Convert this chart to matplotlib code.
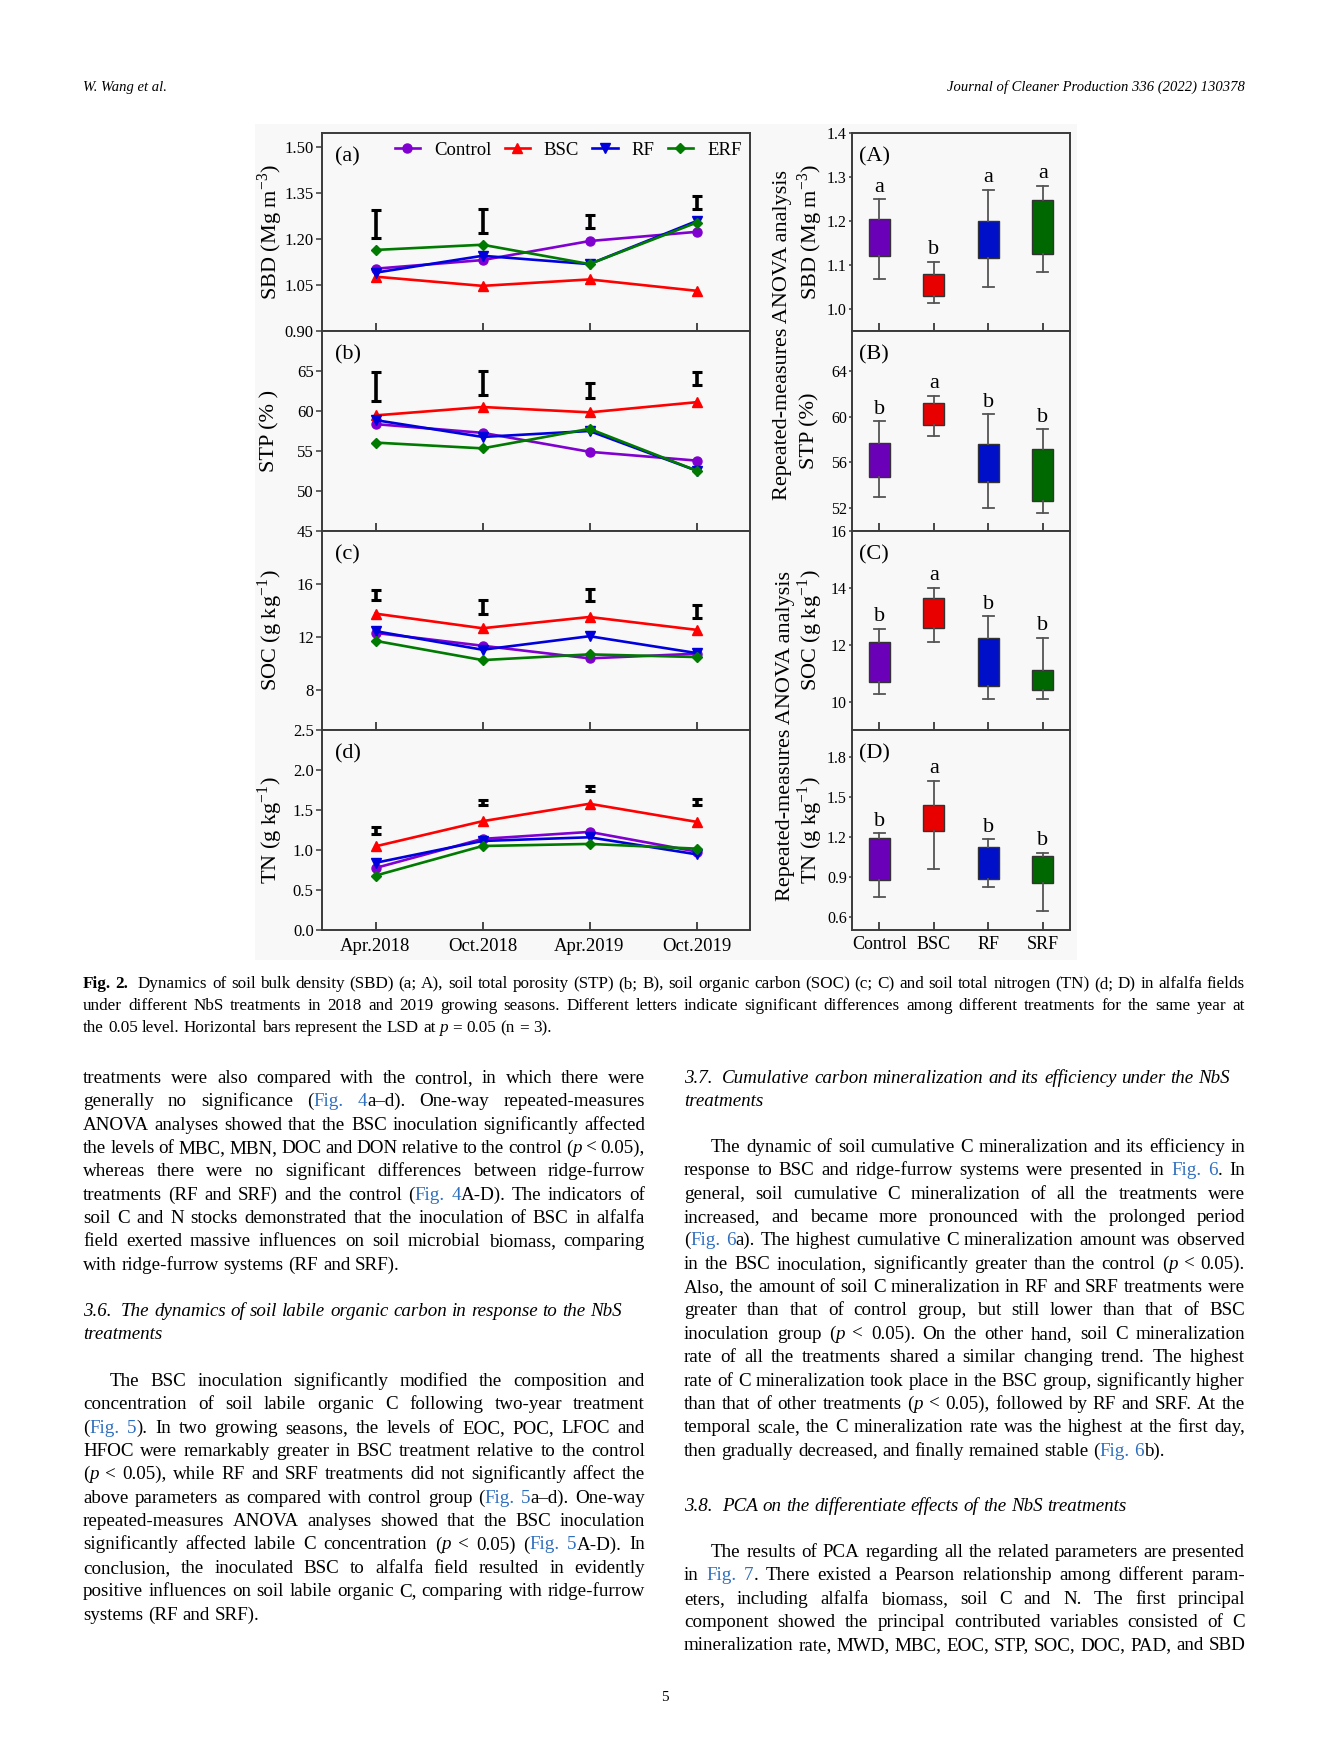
import re
import matplotlib
matplotlib.use('Agg')
import matplotlib.pyplot as plt
from matplotlib.patches import Rectangle

W, H, DPI = 1323, 1764, 100

# ---------------- chart data ----------------
dates = ['Apr.2018', 'Oct.2018', 'Apr.2019', 'Oct.2019']
treatments = ['Control', 'BSC', 'RF', 'ERF']

sbd = [[1.103, 1.131, 1.193, 1.223],
       [1.077, 1.047, 1.068, 1.031],
       [1.090, 1.145, 1.118, 1.258],
       [1.164, 1.181, 1.118, 1.253]]
sbd_lsd_lo = [1.202, 1.219, 1.237, 1.297]
sbd_lsd_hi = [1.294, 1.298, 1.279, 1.341]

stp = [[58.36, 57.27, 54.90, 53.80],
       [59.45, 60.50, 59.83, 61.10],
       [58.86, 56.76, 57.50, 52.55],
       [56.05, 55.33, 57.77, 52.55]]
stp_lsd_lo = [61.3, 62.0, 61.6, 63.2]
stp_lsd_hi = [64.9, 65.0, 63.5, 64.9]

soc = [[12.32, 11.35, 10.40, 10.75],
       [13.77, 12.67, 13.52, 12.55],
       [12.45, 11.05, 12.07, 10.80],
       [11.72, 10.27, 10.70, 10.50]]
soc_lsd_lo = [14.80, 13.75, 14.72, 13.42]
soc_lsd_hi = [15.55, 14.80, 15.60, 14.45]

tn = [[0.775, 1.139, 1.226, 0.980],
      [1.046, 1.360, 1.578, 1.352],
      [0.840, 1.113, 1.159, 0.946],
      [0.680, 1.050, 1.076, 1.017]]
tn_lsd_lo = [1.200, 1.565, 1.736, 1.565]
tn_lsd_hi = [1.290, 1.624, 1.800, 1.640]

box_groups = ['Control', 'BSC', 'RF', 'SRF']
sbd_q1 = [1.120, 1.030, 1.115, 1.125]
sbd_q3 = [1.204, 1.079, 1.200, 1.247]
sbd_lo = [1.068, 1.014, 1.050, 1.084]
sbd_hi = [1.249, 1.107, 1.270, 1.280]
sbd_letters = ['a', 'b', 'a', 'a']

stp_q1 = [54.7, 59.3, 54.3, 52.6]
stp_q3 = [57.7, 61.2, 57.6, 57.2]
stp_lo = [53.0, 58.3, 52.0, 51.6]
stp_hi = [59.6, 61.8, 60.2, 58.9]
stp_letters = ['b', 'a', 'b', 'b']

soc_q1 = [10.70, 12.60, 10.55, 10.40]
soc_q3 = [12.10, 13.65, 12.24, 11.10]
soc_lo = [10.25, 12.10, 10.10, 10.10]
soc_hi = [12.55, 14.00, 13.00, 12.25]
soc_letters = ['b', 'a', 'b', 'b']

tn_q1 = [0.875, 1.245, 0.885, 0.855]
tn_q3 = [1.190, 1.440, 1.120, 1.056]
tn_lo = [0.750, 0.955, 0.820, 0.645]
tn_hi = [1.225, 1.620, 1.180, 1.080]
tn_letters = ['b', 'a', 'b', 'b']

# ---------------- page text ----------------
header_left = 'W. Wang et al.'
header_right = 'Journal of Cleaner Production 336 (2022) 130378'
page_number = '5'

caption = [
    '*Fig.* *2.*  Dynamics of soil bulk density (SBD) (a; A), soil total porosity (STP) (b; B), soil organic carbon (SOC) (c; C) and soil total nitrogen (TN) (d; D) in alfalfa fields',
    'under different NbS treatments in 2018 and 2019 growing seasons. Different letters indicate significant differences among different treatments for the same year at',
    'the 0.05 level. Horizontal bars represent the LSD at {p} = 0.05 (n = 3).',
]

left_par1 = [
    'treatments were also compared with the control, in which there were',
    'generally no significance ([Fig.] [4]a–d). One-way repeated-measures',
    'ANOVA analyses showed that the BSC inoculation significantly affected',
    'the levels of MBC, MBN, DOC and DON relative to the control ({p} < 0.05),',
    'whereas there were no significant differences between ridge-furrow',
    'treatments (RF and SRF) and the control ([Fig.] [4]A-D). The indicators of',
    'soil C and N stocks demonstrated that the inoculation of BSC in alfalfa',
    'field exerted massive influences on soil microbial biomass, comparing',
    'with ridge-furrow systems (RF and SRF).',
]
left_head = ['3.6.  The dynamics of soil labile organic carbon in response to the NbS',
             'treatments']
left_par2 = [
    'The BSC inoculation significantly modified the composition and',
    'concentration of soil labile organic C following two-year treatment',
    '([Fig.] [5]). In two growing seasons, the levels of EOC, POC, LFOC and',
    'HFOC were remarkably greater in BSC treatment relative to the control',
    '({p} < 0.05), while RF and SRF treatments did not significantly affect the',
    'above parameters as compared with control group ([Fig.] [5]a–d). One-way',
    'repeated-measures ANOVA analyses showed that the BSC inoculation',
    'significantly affected labile C concentration ({p} < 0.05) ([Fig.] [5]A-D). In',
    'conclusion, the inoculated BSC to alfalfa field resulted in evidently',
    'positive influences on soil labile organic C, comparing with ridge-furrow',
    'systems (RF and SRF).',
]
right_head1 = ['3.7.  Cumulative carbon mineralization and its efficiency under the NbS',
               'treatments']
right_par1 = [
    'The dynamic of soil cumulative C mineralization and its efficiency in',
    'response to BSC and ridge-furrow systems were presented in [Fig.] [6]. In',
    'general, soil cumulative C mineralization of all the treatments were',
    'increased, and became more pronounced with the prolonged period',
    '([Fig.] [6]a). The highest cumulative C mineralization amount was observed',
    'in the BSC inoculation, significantly greater than the control ({p} < 0.05).',
    'Also, the amount of soil C mineralization in RF and SRF treatments were',
    'greater than that of control group, but still lower than that of BSC',
    'inoculation group ({p} < 0.05). On the other hand, soil C mineralization',
    'rate of all the treatments shared a similar changing trend. The highest',
    'rate of C mineralization took place in the BSC group, significantly higher',
    'than that of other treatments ({p} < 0.05), followed by RF and SRF. At the',
    'temporal scale, the C mineralization rate was the highest at the first day,',
    'then gradually decreased, and finally remained stable ([Fig.] [6]b).',
]
right_head2 = ['3.8.  PCA on the differentiate effects of the NbS treatments']
right_par2 = [
    'The results of PCA regarding all the related parameters are presented',
    'in [Fig.] [7]. There existed a Pearson relationship among different param-',
    'eters, including alfalfa biomass, soil C and N. The first principal',
    'component showed the principal contributed variables consisted of C',
    'mineralization rate, MWD, MBC, EOC, STP, SOC, DOC, PAD, and SBD',
]

# ---------------- style ----------------
BG = '#f8f8f8'
SPINE = '#3a3a3a'
LINK = '#2f6fbf'
line_colors = ['#8000d0', '#ff0000', '#0000dd', '#007a00']
markers = ['o', '^', 'v', 'D']
msizes = [6.5, 7, 7, 5.5]
box_colors = ['#6a00b8', '#e80000', '#0010c8', '#006800']
SERIF = ['Liberation Serif', 'DejaVu Serif']

plt.rcParams['font.family'] = SERIF
plt.rcParams['mathtext.fontset'] = 'stix'

fig = plt.figure(figsize=(W / DPI, H / DPI), dpi=DPI)
fig.patch.set_facecolor('white')


def rect(x0, y0, x1, y1):
    return [x0 / W, 1 - y1 / H, (x1 - x0) / W, (y1 - y0) / H]


def fy(y):
    return 1 - y / H


fig.patches.append(Rectangle((255 / W, fy(960)), 822 / W, 836 / H,
                             transform=fig.transFigure, facecolor=BG,
                             edgecolor='none', zorder=-10))

rows = [(133, 331), (331, 531), (531, 730), (730, 930)]


def style_axes(ax, ylen=4, ypad=2):
    ax.set_facecolor(BG)
    for s in ax.spines.values():
        s.set_color(SPINE)
        s.set_linewidth(1.4)
    ax.tick_params(axis='x', direction='in', length=6, width=1.3, color=SPINE,
                   labelsize=13.5, pad=6)
    ax.tick_params(axis='y', direction='out', length=ylen, width=1.1, color=SPINE,
                   labelsize=12, pad=ypad)


# ---------------- left: dynamics ----------------
left_sets = [
    (sbd, sbd_lsd_lo, sbd_lsd_hi, (0.90, 1.545), [0.90, 1.05, 1.20, 1.35, 1.50], '%.2f',
     'SBD (Mg m$^{\\mathregular{-3}}$)', '(a)'),
    (stp, stp_lsd_lo, stp_lsd_hi, (45, 70), [45, 50, 55, 60, 65], '%d',
     'STP (% )', '(b)'),
    (soc, soc_lsd_lo, soc_lsd_hi, (5, 20), [8, 12, 16], '%d',
     'SOC (g kg$^{\\mathregular{-1}}$)', '(c)'),
    (tn, tn_lsd_lo, tn_lsd_hi, (0, 2.5), [0.0, 0.5, 1.0, 1.5, 2.0, 2.5], '%.1f',
     'TN (g kg$^{\\mathregular{-1}}$)', '(d)'),
]
xpos = list(range(len(dates)))
left_axes = []
for i, (vals, lo, hi, ylim, ticks, fmt, ylab, tag) in enumerate(left_sets):
    ax = fig.add_axes(rect(322, rows[i][0], 750, rows[i][1]))
    style_axes(ax)
    for v, c, m, ms, name in zip(vals, line_colors, markers, msizes, treatments):
        ax.plot(xpos, v, color=c, marker=m, markersize=ms, lw=1.9, label=name)
    # LSD bars drawn from their lower to upper end
    ax.errorbar(xpos, lo, yerr=[[0] * len(lo), [h - l for h, l in zip(hi, lo)]],
                fmt='none', ecolor='black', elinewidth=2.6, capsize=3.5, capthick=2.2)
    ax.set_xlim(-0.5, 3.5)
    ax.set_ylim(*ylim)
    ax.set_yticks(ticks)
    ax.set_yticklabels([fmt % t for t in ticks])
    ax.set_xticks(xpos)
    if i == 3:
        ax.set_xticklabels(dates)
    else:
        ax.set_xticklabels([])
    ax.text(0.03, 0.93, tag, transform=ax.transAxes, fontsize=16, va='top', ha='left')
    fig.text(270 / W, fy((rows[i][0] + rows[i][1]) / 2), ylab, rotation=90,
             fontsize=16, ha='center', va='center')
    left_axes.append(ax)

left_axes[0].legend(loc='upper right', bbox_to_anchor=(1.0, 1.0), ncol=4, frameon=False,
                    fontsize=13.5, handlelength=1.35, handletextpad=0.75,
                    columnspacing=0.7, borderaxespad=0.25, borderpad=0.2)

# ---------------- right: repeated-measures ANOVA ----------------
right_sets = [
    (sbd_q1, sbd_q3, sbd_lo, sbd_hi, sbd_letters, (0.95, 1.4), [1.0, 1.1, 1.2, 1.3, 1.4], '%.1f',
     'SBD (Mg m$^{\\mathregular{-3}}$)', '(A)'),
    (stp_q1, stp_q3, stp_lo, stp_hi, stp_letters, (50, 67.5), [52, 56, 60, 64], '%d',
     'STP (%)', '(B)'),
    (soc_q1, soc_q3, soc_lo, soc_hi, soc_letters, (9, 16), [10, 12, 14, 16], '%d',
     'SOC (g kg$^{\\mathregular{-1}}$)', '(C)'),
    (tn_q1, tn_q3, tn_lo, tn_hi, tn_letters, (0.5, 2.0), [0.6, 0.9, 1.2, 1.5, 1.8], '%.1f',
     'TN (g kg$^{\\mathregular{-1}}$)', '(D)'),
]
bpos = list(range(len(box_groups)))
for i, (q1, q3, lo, hi, letters, ylim, ticks, fmt, ylab, tag) in enumerate(right_sets):
    ax = fig.add_axes(rect(852, rows[i][0], 1070, rows[i][1]))
    style_axes(ax, ylen=2.5, ypad=1.2)
    ax.tick_params(axis='y', labelsize=11.5)
    # median is not shown in the figure, so its line is hidden
    stats = [{'q1': a, 'q3': b, 'med': a, 'whislo': l, 'whishi': h, 'label': g}
             for a, b, l, h, g in zip(q1, q3, lo, hi, box_groups)]
    bp = ax.bxp(stats, positions=bpos, widths=0.38, patch_artist=True, showfliers=False,
                capwidths=0.2,
                boxprops=dict(edgecolor='#333333', linewidth=1.0),
                whiskerprops=dict(color='#555555', linewidth=1.3),
                capprops=dict(color='#555555', linewidth=1.3),
                medianprops=dict(linewidth=0))
    for patch, c in zip(bp['boxes'], box_colors):
        patch.set_facecolor(c)
    for p, h, lt in zip(bpos, hi, letters):
        ax.annotate(lt, (p, h), xytext=(0, 2), textcoords='offset points',
                    ha='center', va='bottom', fontsize=16)
    ax.set_xlim(-0.5, 3.5)
    ax.set_ylim(*ylim)
    ax.set_yticks(ticks)
    ax.set_yticklabels([fmt % t for t in ticks])
    ax.set_xticks(bpos)
    if i == 3:
        ax.set_xticklabels(box_groups, fontsize=13)
        ax.tick_params(axis='x', pad=4)
    else:
        ax.set_xticklabels([])
    ax.text(0.03, 0.93, tag, transform=ax.transAxes, fontsize=16, va='top', ha='left')
    fig.text(810 / W, fy((rows[i][0] + rows[i][1]) / 2), ylab, rotation=90,
             fontsize=16, ha='center', va='center')

fig.text(783 / W, fy(335), 'Repeated-measures ANOVA analysis', rotation=90,
         fontsize=16, ha='center', va='center')
fig.text(785 / W, fy(736), 'Repeated-measures ANOVA analysis', rotation=90,
         fontsize=16, ha='center', va='center')

# ---------------- page text ----------------
renderer = fig.canvas.get_renderer()
token_re = re.compile(r'\[([^\]]*)\]|\{([^}]*)\}|\*([^*]*)\*|([^\[\{\*]+)')


def put_line(line, x0, ybase, width, size, justify, style='normal'):
    words = line.split(' ')
    drawn = []
    for w in words:
        segs = []
        wsum = 0
        for m in token_re.finditer(w):
            blue, ital, bold, plain = m.groups()
            txt = blue or ital or bold or plain
            t = fig.text(0, fy(ybase), txt, fontsize=size, va='baseline', ha='left',
                         color=LINK if blue else 'black',
                         style='italic' if ital else style,
                         weight='bold' if bold else 'normal')
            wd = t.get_window_extent(renderer).width
            segs.append((t, wd))
            wsum += wd
        drawn.append((segs, wsum))
    gaps = len(drawn) - 1
    total = sum(d[1] for d in drawn)
    em = size * DPI / 72
    min_sp = em * 0.16
    if justify and gaps > 0 and total + min_sp * gaps > width:
        # squeeze an over-long line a little so it stays inside the column
        f = (width - min_sp * gaps) / total
        for segs, _ in drawn:
            for t, _ in segs:
                t.set_fontsize(size * f)
        drawn = [([(t, wd * f) for t, wd in segs], ws * f) for segs, ws in drawn]
        total *= f
    space = em * 0.25
    if justify and gaps > 0:
        space = (width - total) / gaps
    x = x0
    for segs, wsum in drawn:
        xx = x
        for t, wd in segs:
            t.set_x(xx / W)
            xx += wd
        x += wsum + space


def put_par(lines, x0, x1, ytop, step, size, indent=0, style='normal', justify=True):
    for k, ln in enumerate(lines):
        last = k == len(lines) - 1
        xi = x0 + (indent if k == 0 else 0)
        put_line(ln, xi, ytop + k * step, x1 - xi, size, justify and not last, style)


fig.text(83 / W, fy(91), header_left, style='italic', fontsize=10.5, va='baseline')
fig.text(1245 / W, fy(91), header_right, style='italic', fontsize=10.5, va='baseline', ha='right')

put_par(caption, 83, 1245, 988, 22.0, 12.3)

BODY = 13.7
STEP = 23.35
LX0, LX1 = 83, 645
RX0, RX1 = 684, 1245
put_par(left_par1, LX0, LX1, 1083, STEP, BODY)
put_par(left_head, LX0, LX1, 1316, STEP, BODY, style='italic', justify=False)
put_par(left_par2, LX0, LX1, 1386, STEP, BODY, indent=27)
put_par(right_head1, RX0, RX1, 1083, STEP, BODY, style='italic', justify=False)
put_par(right_par1, RX0, RX1, 1152, STEP, BODY, indent=27)
put_par(right_head2, RX0, RX1, 1511, STEP, BODY, style='italic', justify=False)
put_par(right_par2, RX0, RX1, 1557, STEP, BODY, indent=27, justify=True)

fig.text(665 / W, fy(1701), page_number, fontsize=11, ha='center', va='baseline')

fig.savefig('out.png', dpi=DPI)
